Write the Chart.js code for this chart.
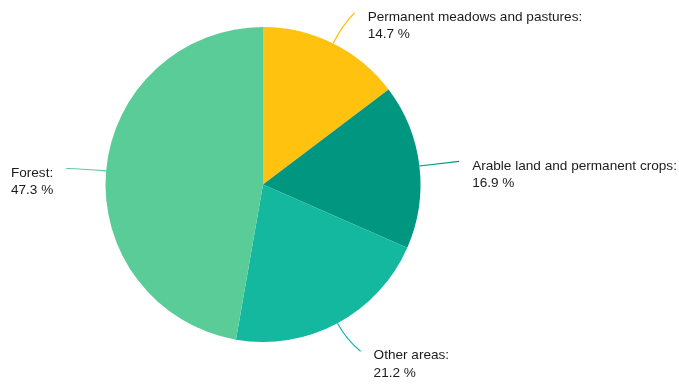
<!DOCTYPE html>
<html>
<head>
<meta charset="utf-8">
<script src="https://cdn.jsdelivr.net/npm/chart.js@4/dist/chart.umd.min.js"></script>
<style>
html,body{margin:0;padding:0;background:#fff;}
#wrap{width:679px;height:385px;}
</style>
</head>
<body>
<div id="wrap"><canvas id="c" width="679" height="385"></canvas></div>
<script>
const categories = ["Permanent meadows and pastures", "Arable land and permanent crops", "Other areas", "Forest"];
const shares = [14.7, 16.9, 21.2, 47.3];
const sliceColors = ["#FFC20E", "#009680", "#13B89E", "#5ACC98"];
const valueLabels = ["14.7 %", "16.9 %", "21.2 %", "47.3 %"];
// leader styling per slice: radial length and end bend (x, y)
const leaderLen = [36, 40, 34, 40];
const leaderBendX = [5.5, 0, 7, 0];
const leaderBendY = [1.5, 0, -2, 1];

const leaderPlugin = {
  id: 'leaders',
  afterDatasetsDraw(chart) {
    const ctx = chart.ctx;
    const meta = chart.getDatasetMeta(0);
    ctx.save();
    ctx.font = '13.6px "Liberation Sans", Arial, Helvetica, sans-serif';
    meta.data.forEach((arc, i) => {
      const p = arc.getProps(['x', 'y', 'startAngle', 'endAngle', 'outerRadius'], true);
      const mid = (p.startAngle + p.endAngle) / 2;
      const dx = Math.cos(mid), dy = Math.sin(mid);
      const sx = p.x + dx * p.outerRadius, sy = p.y + dy * p.outerRadius;
      const L = leaderLen[i];
      const right = dx >= 0;
      const ex = sx + dx * L + leaderBendX[i];
      const ey = sy + dy * L + leaderBendY[i];
      const cx = sx + dx * L * 0.55, cy = sy + dy * L * 0.55;
      ctx.strokeStyle = sliceColors[i];
      ctx.lineWidth = 1.2;
      ctx.beginPath();
      ctx.moveTo(sx, sy);
      ctx.quadraticCurveTo(cx, cy, ex, ey);
      ctx.stroke();
      const lines = [categories[i] + ':', valueLabels[i]];
      const w = Math.max(...lines.map(t => ctx.measureText(t).width));
      const tx = right ? ex + 13 : ex - 13 - w;
      ctx.fillStyle = '#1c1c1c';
      ctx.textAlign = 'left';
      ctx.textBaseline = 'middle';
      lines.forEach((t, k) => ctx.fillText(t, tx, ey + 4.5 + k * 17.5));
    });
    ctx.restore();
  }
};

new Chart(document.getElementById('c'), {
  type: 'pie',
  data: {
    labels: categories,
    datasets: [{
      data: shares,
      backgroundColor: sliceColors,
      borderWidth: 0,
      hoverOffset: 0
    }]
  },
  options: {
    responsive: false,
    animation: false,
    layout: { padding: { top: 27, bottom: 43, left: 105, right: 258 } },
    plugins: {
      legend: { display: false },
      tooltip: { enabled: false }
    }
  },
  plugins: [leaderPlugin]
});
</script>
</body>
</html>
